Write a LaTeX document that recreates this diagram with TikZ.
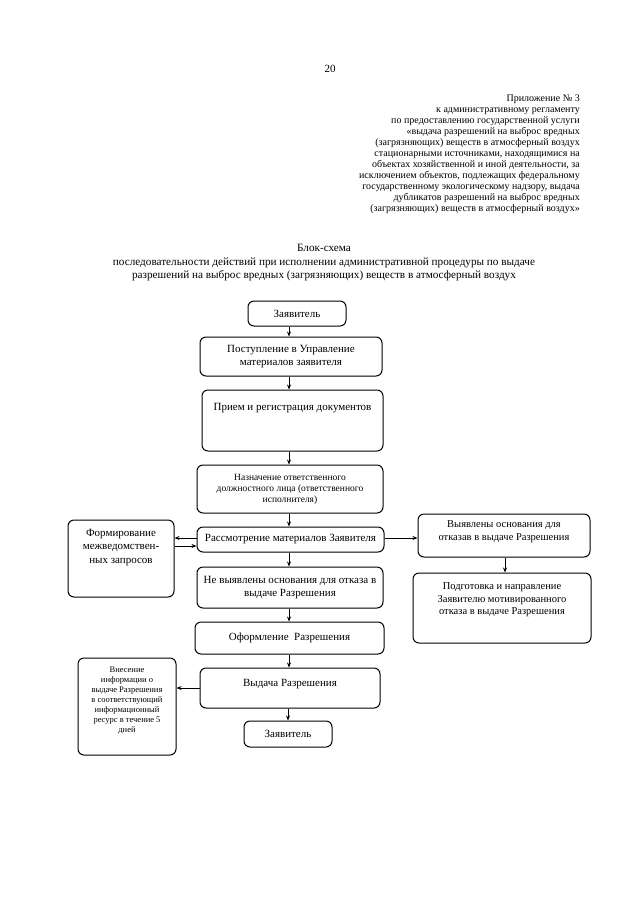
\documentclass[tikz,border=0pt]{standalone}
\usepackage{fontspec}
\setmainfont{Liberation Serif}
\usetikzlibrary{arrows.meta}
\newcommand\tbox[4]{\parbox[c][#2][t]{#1}{\centering\vspace*{#3}#4\par}}
\begin{document}
\begin{tikzpicture}[x=1pt,y=-1pt,
  box/.style={draw, rounded corners=6pt, line width=1pt, inner sep=0pt, align=center},
  arr/.style={-{Stealth[length=5pt,width=4pt]}, line width=0.8pt},
  fn/.style={font=\fontsize{11}{13.5}\selectfont},
  fs/.style={font=\fontsize{8.5}{10}\selectfont},
  fz/.style={font=\fontsize{9.5}{11}\selectfont},
  fm/.style={font=\fontsize{10.5}{12.5}\selectfont}]
\fill[white] (0,0) rectangle (640,905);
\useasboundingbox (0,0) rectangle (640,905);

% page number, header, title
\node[font=\fontsize{11}{13}\selectfont] (pg) at (330,69) {20};
\node[anchor=north east, align=right, inner sep=0pt, font=\fontsize{10}{11}\selectfont] (hdr) at (580,95) {%
Приложение № 3\\
к административному регламенту\\
по предоставлению государственной услуги\\
«выдача разрешений на выброс вредных\\
(загрязняющих) веществ в атмосферный воздух\\
стационарными источниками, находящимися на\\
объектах хозяйственной и иной деятельности, за\\
исключением объектов, подлежащих федеральному\\
государственному экологическому надзору, выдача\\
дубликатов разрешений на выброс вредных\\
(загрязняющих) веществ в атмосферный воздух»};
\node[align=center, inner sep=0pt, font=\fontsize{11.2}{13.5}\selectfont] (ttl) at (324,263) {%
Блок-схема\\
последовательности действий при исполнении административной процедуры по выдаче\\
разрешений на выброс вредных (загрязняющих) веществ в атмосферный воздух};

% spine coordinates
\coordinate (sp) at (289,0);
\coordinate (sr) at (505,0);
\coordinate (yA) at (0,538);
\coordinate (yB) at (0,546);
\coordinate (yC) at (0,688);

% boxes
\node[box, fn, minimum width=98pt, minimum height=25pt] (z1) at (297,313.5) {Заявитель};
\node[box, fn, minimum width=182pt, minimum height=39pt] (post) at (291,356.5) {Поступление в Управление\\материалов заявителя};
\node[box, fn] (priem) at (292.5,420.5) {\tbox{181pt}{61pt}{13pt}{Прием и регистрация документов}};
\node[box, fz, minimum width=186pt, minimum height=48pt] (naz) at (290,489) {Назначение ответственного\\должностного лица (ответственного\\исполнителя)};
\node[box, fn, minimum width=187pt, minimum height=25pt] (rass) at (290.5,539.5) {Рассмотрение материалов Заявителя};
\node[box, fn] (form) at (121,558.5) {\tbox{106pt}{77pt}{9pt}{Формирование\\межведомствен-\\ных запросов}};
\node[box, fm] (vyav) at (504,535.5) {\tbox{172pt}{43pt}{7pt}{Выявлены основания для\\отказав в выдаче Разрешения}};
\node[box, fm] (podg) at (502,608) {\tbox{178pt}{70pt}{10pt}{Подготовка и направление\\Заявителю мотивированного\\отказа в выдаче Разрешения}};
\node[box, fn, minimum width=186pt, minimum height=41pt] (ne) at (290,587.5) {Не выявлены основания для отказа в\\выдаче Разрешения};
\node[box, fn, minimum width=189pt, minimum height=32pt] (oform) at (289.5,638) {Оформление\ \ Разрешения};
\node[box, fn] (vyd) at (290,688) {\tbox{180pt}{40pt}{11pt}{Выдача Разрешения}};
\node[box, fs] (vnes) at (127,706.5) {\tbox{98pt}{97pt}{8.5pt}{Внесение\\информации о\\выдаче Разрешения\\в соответствующий\\информационный\\ресурс в течение 5\\дней}};
\node[box, fn, minimum width=88pt, minimum height=26pt] (z2) at (288,734) {Заявитель};

% connectors
\draw[arr] (z1.south -| sp) -- (post.north -| sp);
\draw[arr] (post.south -| sp) -- (priem.north -| sp);
\draw[arr] (priem.south -| sp) -- (naz.north -| sp);
\draw[arr] (naz.south -| sp) -- (rass.north -| sp);
\draw[arr] (rass.south -| sp) -- (ne.north -| sp);
\draw[arr] (ne.south -| sp) -- (oform.north -| sp);
\draw[arr] (oform.south -| sp) -- (vyd.north -| sp);
\draw[arr] (vyd.south -| z2) -- (z2.north);
\draw[arr] (rass.west |- yA) -- (form.east |- yA);
\draw[arr] (form.east |- yB) -- (rass.west |- yB);
\draw[arr] (rass.east |- yA) -- (vyav.west |- yA);
\draw[arr] (vyav.south -| sr) -- (podg.north -| sr);
\draw[arr] (vyd.west |- yC) -- (vnes.east |- yC);
\end{tikzpicture}
\end{document}
